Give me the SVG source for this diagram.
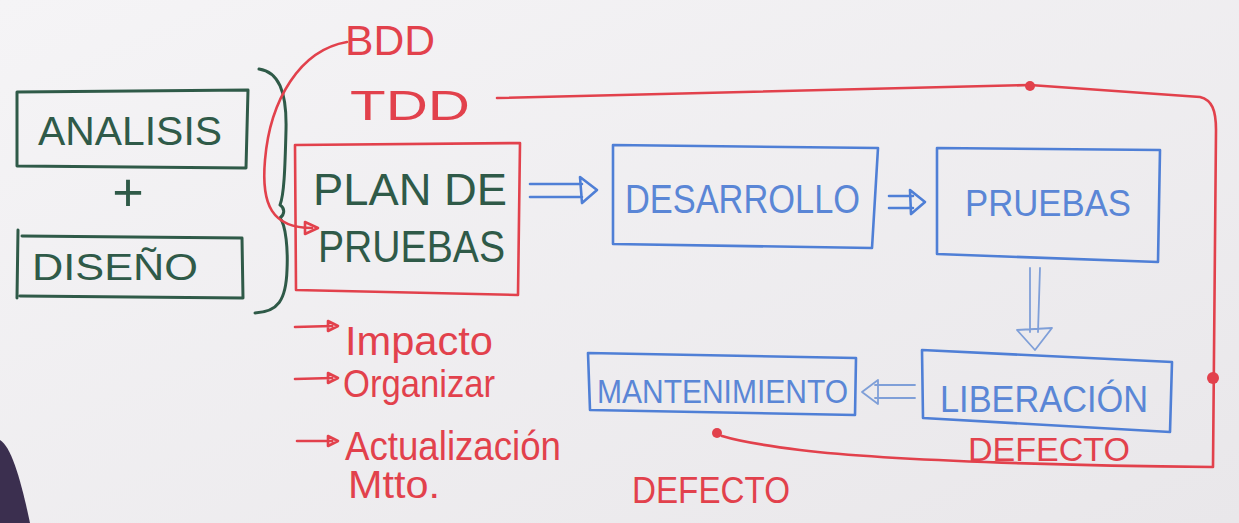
<svg xmlns="http://www.w3.org/2000/svg" width="1239" height="523" viewBox="0 0 1239 523">
<defs>
<linearGradient id="bg" x1="0" y1="0" x2="1" y2="1">
<stop offset="0" stop-color="#f5f4f6"/>
<stop offset="1" stop-color="#e9e7ea"/>
</linearGradient>
<style>
.g{fill:none;stroke:#2f5a48;stroke-width:3;stroke-linecap:round;stroke-linejoin:round}
.r{fill:none;stroke:#e2414c;stroke-width:2.6;stroke-linecap:round;stroke-linejoin:round}
.b{fill:none;stroke:#4f7fd6;stroke-width:2.6;stroke-linecap:round;stroke-linejoin:round}
.bt{fill:none;stroke:#7f9fd8;stroke-width:1.8;stroke-linecap:round;stroke-linejoin:round}
text{font-family:"Liberation Sans","DejaVu Sans",sans-serif;font-weight:normal}
.tg{fill:#2f5a48}
.tr{fill:#e2414c}
.tb{fill:#5a86d6}
.dot{fill:#e2414c}
</style>
</defs>
<rect width="1239" height="523" fill="url(#bg)"/>
<path d="M0,440 C12,447 22,485 30,523 L0,523 Z" fill="#3b2f4f"/>

<g id="analisis">
<path class="g" d="M17,92 L248,90 L246,168 L17,166 Z"/>
<text class="tg" x="38" y="145" font-size="40" textLength="184" lengthAdjust="spacingAndGlyphs">ANALISIS</text>
</g>
<g id="plus">
<text class="tg" x="128" y="211" font-size="54" text-anchor="middle">+</text>
</g>
<g id="diseno">
<path class="g" d="M18,230 L17,298 M22,236 L242,238 L243,298 L20,296"/>
<text class="tg" x="32" y="280" font-size="36" textLength="166" lengthAdjust="spacingAndGlyphs">DISEÑO</text>
</g>
<g id="brace">
<path class="g" d="M259,69 C278,72 287,90 286,130 C285,170 284,195 280,205 C285,208 285,214 280,218 C286,225 288,250 287,270 C286,300 278,312 255,313"/>
</g>

<g id="bdd">
<text class="tr" x="345" y="55" font-size="42" textLength="90" lengthAdjust="spacingAndGlyphs">BDD</text>
</g>
<g id="tdd">
<text class="tr" x="350" y="120" font-size="42" textLength="120" lengthAdjust="spacingAndGlyphs">TDD</text>
</g>

<g id="plan">
<path class="r" d="M295,145 L520,143 L518,295 L296,290 Z"/>
<text class="tg" x="313" y="205" font-size="44" textLength="194" lengthAdjust="spacingAndGlyphs">PLAN DE</text>
<text class="tg" x="318" y="262" font-size="44" textLength="187" lengthAdjust="spacingAndGlyphs">PRUEBAS</text>
</g>

<g id="desarrollo">
<path class="b" d="M613,145 L878,148 L872,248 L613,244 Z"/>
<text class="tb" x="625" y="213" font-size="40" textLength="235" lengthAdjust="spacingAndGlyphs">DESARROLLO</text>
</g>
<g id="pruebas">
<path class="b" d="M937,148 L1160,150 L1158,262 L937,254 Z"/>
<text class="tb" x="965" y="216" font-size="36" textLength="166" lengthAdjust="spacingAndGlyphs">PRUEBAS</text>
</g>
<g id="liberacion">
<path class="b" d="M922,350 L1172,362 L1170,432 L923,418 Z"/>
<text class="tb" x="940" y="412" font-size="36" textLength="208" lengthAdjust="spacingAndGlyphs">LIBERACIÓN</text>
</g>
<g id="mantenimiento">
<path class="b" d="M588,353 L856,358 L855,415 L590,410 Z"/>
<text class="tb" x="597" y="403" font-size="34" textLength="251" lengthAdjust="spacingAndGlyphs">MANTENIMIENTO</text>
</g>

<g id="defecto1">
<text class="tr" x="968" y="461" font-size="34" textLength="162" lengthAdjust="spacingAndGlyphs">DEFECTO</text>
</g>
<g id="defecto2">
<text class="tr" x="632" y="503" font-size="36" textLength="158" lengthAdjust="spacingAndGlyphs">DEFECTO</text>
</g>

<g id="lista">
<text class="tr" x="345" y="355" font-size="40" textLength="148" lengthAdjust="spacingAndGlyphs">Impacto</text>
<text class="tr" x="343" y="397" font-size="38" textLength="152" lengthAdjust="spacingAndGlyphs">Organizar</text>
<text class="tr" x="345" y="460" font-size="40" textLength="216" lengthAdjust="spacingAndGlyphs">Actualización</text>
<text class="tr" x="348" y="498" font-size="38" textLength="92" lengthAdjust="spacingAndGlyphs">Mtto.</text>
</g>

<g id="connectors">
<path class="r" d="M347,42 C300,50 270,100 265,160 C261,205 272,228 312,228"/>
<path class="r" d="M305,222 L318,228 L305,234 Z"/>
<path class="r" d="M497,98 L1030,85 L1200,97 C1212,100 1216,110 1216,130 L1213,467 C1100,466 900,462 800,450 C760,445 735,440 722,436"/>
<circle class="dot" cx="1030" cy="86" r="5"/>
<circle class="dot" cx="1213" cy="378" r="6"/>
<circle class="dot" cx="717" cy="433" r="5"/>

<path class="r" d="M295,327 L332,326 M328,321 L338,326 L328,331 Z"/>
<path class="r" d="M295,379 L332,378 M328,373 L338,378 L328,383 Z"/>
<path class="r" d="M297,441 L332,441 M328,436 L338,441 L328,446 Z"/>

<path class="b" d="M530,184 L582,184 M530,197 L582,197 M580,177 L597,190 L582,203 Z"/>
<path class="b" d="M889,196 L913,196 M889,208 L913,208 M910,190 L925,202 L911,214 Z"/>
<path class="bt" d="M1030,268 L1030,332 M1040,268 L1038,332 M1017,330 L1052,328 L1035,350 Z"/>
<path class="bt" d="M915,385 L875,385 M915,398 L875,398 M878,380 L862,392 L878,404 Z"/>
</g>
</svg>
